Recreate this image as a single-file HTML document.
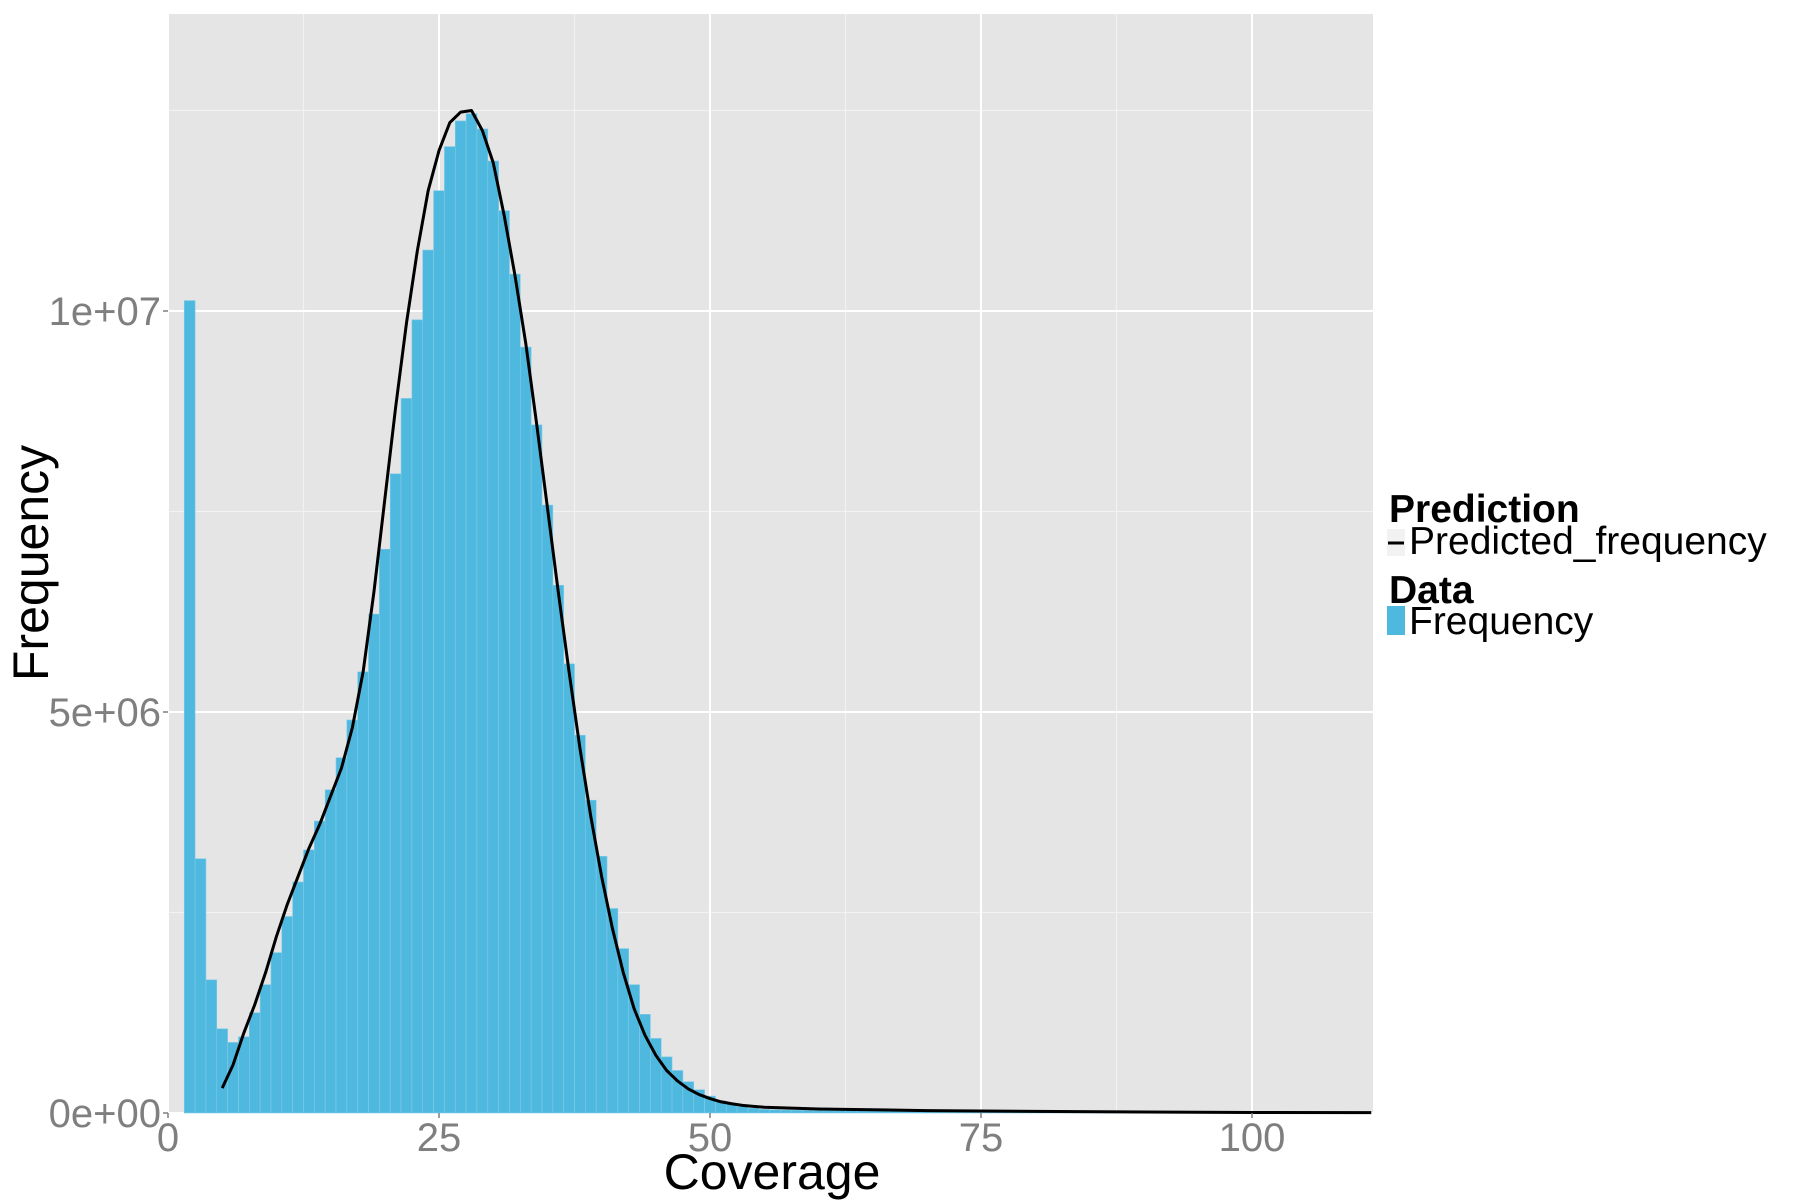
<!DOCTYPE html>
<html><head><meta charset="utf-8"><style>
html,body{margin:0;padding:0;background:#fff;}
svg{display:block;font-family:"Liberation Sans",sans-serif;}
</style></head><body>
<svg id="chart" width="1800" height="1200" viewBox="0 0 1800 1200">
<rect x="168" y="14" width="1205" height="1099" fill="#E5E5E5"/>
<g id="grid"></g>
<g id="bars"></g>
<g id="curve"></g>
<g id="axes"></g>
<text x="772" y="1189" font-size="50" text-anchor="middle" fill="#000">Coverage</text>
<text transform="translate(48,563) rotate(-90)" font-size="50" text-anchor="middle" fill="#000">Frequency</text>
<g>
<text x="1389" y="522" font-size="39" font-weight="bold" fill="#000">Prediction</text>
<rect x="1387" y="529" width="18" height="27" fill="#F2F2F2"/>
<line x1="1388" y1="543" x2="1404" y2="543" stroke="#000" stroke-width="3"/>
<text x="1409" y="554" font-size="39" fill="#000">Predicted_frequency</text>
<text x="1389" y="603" font-size="39" font-weight="bold" fill="#000">Data</text>
<rect x="1387" y="606" width="18" height="29" fill="#4FB8DE"/>
<text x="1409" y="634" font-size="39" fill="#000">Frequency</text>
</g>
</svg>
<script>
const barCoverage = [2,3,4,5,6,7,8,9,10,11,12,13,14,15,16,17,18,19,20,21,22,23,24,25,26,27,28,29,30,31,32,33,34,35,36,37,38,39,40,41,42,43,44,45,46,47,48,49,50,51,52,53,54,55,56,57,58,59,60,61,62,63,64,65,66,67,68,69,70,71,72,73,74,75,76,77,78,79,80,81,82,83,84,85,86,87,88,89,90,91,92,93,94,95,96,97,98,99,100,101,102,103,104,105,106,107,108,109,110];
const barFreq = [10.13,3.17,1.66,1.05,0.88,0.95,1.25,1.6,2.0,2.45,2.88,3.28,3.64,4.03,4.43,4.9,5.5,6.22,7.03,7.97,8.91,9.89,10.76,11.5,12.05,12.37,12.46,12.27,11.87,11.25,10.46,9.55,8.58,7.58,6.58,5.6,4.71,3.9,3.2,2.55,2.05,1.6,1.23,0.93,0.7,0.53,0.39,0.29,0.21,0.15,0.11,0.08,0.06,0.045,0.04,0.037,0.035,0.033,0.031,0.03,0.029,0.028,0.027,0.026,0.025,0.024,0.023,0.022,0.021,0.02,0.019,0.018,0.017,0.016,0.015,0.015,0.014,0.014,0.013,0.013,0.012,0.012,0.011,0.011,0.01,0.01,0.01,0.009,0.009,0.009,0.008,0.008,0.008,0.007,0.007,0.007,0.006,0.006,0.006,0.005,0.005,0.005,0.005,0.004,0.004,0.004,0.004,0.003,0.003];
const curveX = [5,6,7,8,9,10,11,12,13,14,15,16,17,18,19,20,21,22,23,24,25,26,27,28,29,30,31,32,33,34,35,36,37,38,39,40,41,42,43,44,45,46,47,48,49,50,51,52,53,54,55,60,70,80,90,100,111];
const curveY = [0.31,0.6,1.0,1.35,1.75,2.2,2.6,2.95,3.3,3.6,3.95,4.3,4.8,5.5,6.5,7.65,8.8,9.85,10.75,11.5,12.0,12.35,12.48,12.5,12.25,11.85,11.2,10.45,9.6,8.6,7.55,6.5,5.5,4.55,3.7,2.95,2.3,1.75,1.3,0.97,0.72,0.53,0.4,0.3,0.23,0.18,0.14,0.115,0.095,0.082,0.072,0.05,0.03,0.02,0.012,0.007,0.004];
const xTicks = [0,25,50,75,100];
const xMinor = [12.5,37.5,62.5,87.5];
const yTicks = [0,5,10];
const yTickLabels = ["0e+00","5e+06","1e+07"];
const yMinor = [2.5,7.5,12.5];
const NS = "http://www.w3.org/2000/svg";
const X0=168, X1=1373, Y0=1113, Y1=14, XMAX=(1373-168)/10.84;
function sx(v){return X0+v*10.84;}
function sy(v){return Y0-v*80.2;}
function mk(tag, attrs, parent){const e=document.createElementNS(NS,tag);for(const k in attrs)e.setAttribute(k,attrs[k]);parent.appendChild(e);return e;}
const grid=document.getElementById('grid');
xMinor.forEach(v=>{const l=mk('line',{x1:sx(v),x2:sx(v),y1:Y1,y2:Y0,stroke:'#F2F2F2','stroke-width':1.2},grid);

});
yMinor.forEach(v=>{const l=mk('line',{x1:X0,x2:X1,y1:sy(v),y2:sy(v),stroke:'#F2F2F2','stroke-width':1.2},grid);

});
xTicks.forEach(v=>{const l=mk('line',{x1:sx(v),x2:sx(v),y1:Y1,y2:Y0,stroke:'#FFFFFF','stroke-width':2},grid);

});
yTicks.forEach(v=>{const l=mk('line',{x1:X0,x2:X1,y1:sy(v),y2:sy(v),stroke:'#FFFFFF','stroke-width':2},grid);

});
const bars=document.getElementById('bars');
barCoverage.forEach((c,i)=>{const x=sx(c-0.5),w=10.84,y=sy(barFreq[i]);
const r=mk('rect',{x:x,y:y,width:w,height:Y0-y,fill:'#4FB8DE',stroke:'#7FCBE8','stroke-width':0.6},bars);

});
const curve=document.getElementById('curve');
const pts=curveX.map((x,i)=>sx(Math.min(x,XMAX))+','+sy(curveY[i])).join(' ');
const pl=mk('polyline',{points:pts,fill:'none',stroke:'#000','stroke-width':3,'stroke-linejoin':'round'},curve);


const axes=document.getElementById('axes');
xTicks.forEach(v=>{mk('line',{x1:sx(v),x2:sx(v),y1:Y0,y2:Y0+5,stroke:'#7F7F7F','stroke-width':1.5},axes);
const t=mk('text',{x:sx(v),y:1151,'font-size':40,'text-anchor':'middle',fill:'#7F7F7F'},axes);t.textContent=String(v);

});
yTicks.forEach((v,i)=>{mk('line',{x1:X0-5,x2:X0,y1:sy(v),y2:sy(v),stroke:'#7F7F7F','stroke-width':1.5},axes);
const t=mk('text',{x:161,y:sy(v)+14,'font-size':40,'text-anchor':'end',fill:'#7F7F7F'},axes);t.textContent=yTickLabels[i];

});
</script>
</body></html>
